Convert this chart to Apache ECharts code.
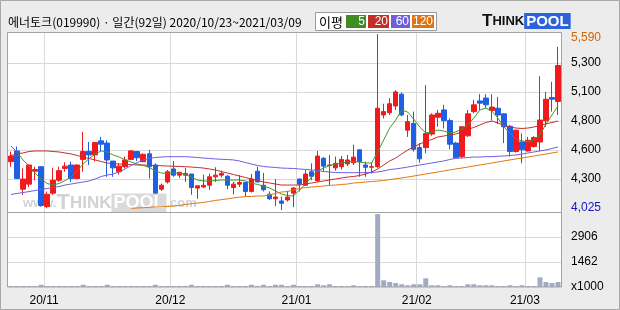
<!DOCTYPE html>
<html><head><meta charset="utf-8">
<script src="https://cdn.jsdelivr.net/npm/echarts@6/dist/echarts.min.js"></script>
<style>html,body{margin:0;padding:0;background:#ececec}#c{width:620px;height:310px}</style>
</head><body><div id="c"></div>
<script>
const titleText = '에너토크(019990) · 일간(92일) 2020/10/23~2021/03/09';
const categories = [
'2020-10-23','2020-10-26','2020-10-27','2020-10-28','2020-10-29','2020-10-30',
'2020-11-02','2020-11-03','2020-11-04','2020-11-05','2020-11-06','2020-11-09','2020-11-10','2020-11-11','2020-11-12','2020-11-13','2020-11-16','2020-11-17','2020-11-18','2020-11-19','2020-11-20','2020-11-23','2020-11-24','2020-11-25','2020-11-26','2020-11-27','2020-11-30',
'2020-12-01','2020-12-02','2020-12-03','2020-12-04','2020-12-07','2020-12-08','2020-12-09','2020-12-10','2020-12-11','2020-12-14','2020-12-15','2020-12-16','2020-12-17','2020-12-18','2020-12-21','2020-12-22','2020-12-23','2020-12-24','2020-12-28','2020-12-29','2020-12-30',
'2021-01-04','2021-01-05','2021-01-06','2021-01-07','2021-01-08','2021-01-11','2021-01-12','2021-01-13','2021-01-14','2021-01-15','2021-01-18','2021-01-19','2021-01-20','2021-01-21','2021-01-22','2021-01-25','2021-01-26','2021-01-27','2021-01-28','2021-01-29',
'2021-02-01','2021-02-02','2021-02-03','2021-02-04','2021-02-05','2021-02-08','2021-02-09','2021-02-10','2021-02-15','2021-02-16','2021-02-17','2021-02-18','2021-02-19','2021-02-22','2021-02-23','2021-02-24','2021-02-25','2021-02-26',
'2021-03-02','2021-03-03','2021-03-04','2021-03-05','2021-03-08','2021-03-09'];
const opens = [4455,4550,4210,4255,4370,4410,4055,4175,4290,4395, 4425,4305,4475,4545,4515,4640,4620,4460,4365,4410,
 4475,4545,4455,4525,4425,4210,4275,4390,4335,4335, 4345,4220,4230,4245,4320,4335,4325,4225,4255,4270,
 4190,4370,4245,4165,4125,4105,4115,4175,4300,4245, 4365,4285,4485,4420,4400,4410,4435,4445,4560,4425,
 4405,4410,4870,4890,4950,5055,4735,4795,4580,4580, 4700,4850,4915,4820,4620,4500,4685,4900,4995,5020,
 4910,4930,4880,4770,4545,4630,4550,4590,4630,4820, 5025,4990];
const closes = [4505,4305,4300,4425,4385,4065,4165,4290,4375,4415, 4305,4425,4545,4515,4625,4610,4470,4400,4415,4470,
 4550,4490,4520,4410,4175,4245,4365,4335,4360,4350, 4225,4240,4245,4320,4335,4350,4245,4255,4270,4190,
 4300,4275,4205,4125,4140,4085,4140,4220,4255,4345, 4325,4505,4415,4425,4440,4475,4470,4495,4455,4405,
 4410,4930,4900,4970,5075,4870,4810,4565,4480,4705, 4870,4885,4820,4610,4490,4765,4880,4960,4975,4960,
 4940,4870,4765,4545,4735,4560,4645,4670,4825,5010, 5010,5310];
const lows = [4410,4300,4160,4230,4290,4055,4040,4160,4275,4365, 4275,4300,4365,4425,4455,4545,4320,4320,4340,4395,
 4470,4460,4450,4305,4175,4195,4260,4320,4310,4275, 4160,4125,4220,4205,4275,4315,4210,4165,4230,4145,
 4180,4270,4190,4115,4060,4025,4100,4050,4190,4240, 4290,4275,4365,4245,4375,4385,4415,4425,4320,4320,
 4350,4400,4840,4870,4915,4860,4675,4545,4445,4530, 4685,4765,4750,4565,4485,4485,4675,4885,4915,4930,
 4820,4790,4620,4500,4535,4440,4545,4580,4550,4765, 4900,4870];
const highs = [4545,4590,4395,4430,4410,4410,4190,4400,4410,4450, 4455,4430,4720,4630,4630,4675,4645,4460,4440,4500,
 4560,4545,4530,4560,4440,4260,4380,4460,4365,4400, 4345,4240,4340,4350,4405,4375,4335,4275,4335,4275,
 4345,4410,4355,4190,4300,4145,4195,4230,4305,4380, 4440,4550,4495,4515,4500,4505,4515,4605,4565,4455,
 4445,5590,4970,5020,5090,5070,4870,4900,4620,5135, 4885,4915,4960,4840,4630,4765,4915,5005,5055,5055,
 5055,5030,4885,4780,4740,4705,4675,4680,5215,5075, 5165,5475];
const ma5 = [4594,4541,4470,4416,4354,4301,4261,4247,4261,4287, 4318,4372,4434,4483,4523,4550,4541,4514,4496,4470,
 4452,4434,4421,4403,4372,4354,4350,4354,4354,4341, 4318,4292,4283,4283,4287,4292,4292,4292,4292,4283,
 4265,4252,4238,4221,4194,4167,4154,4149,4203,4256, 4318,4372,4398,4421,4434,4443,4452,4456,4452,4443,
 4443,4541,4648,4754,4825,4914,4896,4834,4763,4710, 4719,4736,4728,4710,4719,4745,4781,4843,4914,4932,
 4905,4843,4763,4710,4656,4639,4630,4648,4692,4790, 4870,4950];
const ma20 = [4510,4523,4532,4545,4550,4550,4550,4545,4541,4532, 4523,4510,4496,4483,4470,4456,4443,4438,4434,4431,
 4429,4425,4425,4422,4421,4419,4416,4414,4412,4410, 4407,4403,4398,4390,4381,4367,4354,4341,4327,4314,
 4301,4287,4274,4265,4256,4247,4247,4247,4247,4256, 4265,4274,4283,4292,4301,4310,4318,4323,4332,4345,
 4363,4390,4425,4461,4487,4523,4559,4585,4612,4634, 4652,4674,4683,4692,4701,4719,4741,4759,4781,4803,
 4816,4799,4777,4763,4754,4750,4754,4763,4777,4790, 4803,4816];
const ma60 = [4163,4172,4180,4189,4198,4207,4216,4225,4234,4247, 4256,4265,4274,4283,4301,4323,4336,4345,4363,4390,
 4421,4447,4470,4483,4492,4496,4499,4499,4499,4499, 4496,4492,4487,4483,4479,4476,4474,4470,4461,4447,
 4434,4421,4412,4407,4403,4398,4396,4394,4390,4385, 4381,4376,4367,4363,4358,4357,4357,4357,4357,4357,
 4358,4363,4372,4385,4390,4398,4407,4416,4425,4434, 4443,4452,4461,4474,4485,4487,4492,4496,4496,4499,
 4499,4503,4505,4510,4514,4523,4532,4541,4550,4559, 4572,4585];
const ma120 = [null,null,null,null,null,null,null,null,null,null, null,null,null,null,null,null,null,null,null,null,
 4040,4043,4045,4049,4052,4053,4056,4060,4065,4074, 4081,4086,4092,4101,4110,4117,4124,4132,4139,4144,
 4146,4149,4150,4158,4172,4185,4189,4203,4216,4225, 4229,4234,4238,4244,4247,4252,4256,4265,4269,4274,
 4278,4283,4287,4296,4303,4310,4318,4327,4336,4345, 4354,4363,4372,4381,4390,4398,4407,4416,4425,4434,
 4443,4452,4461,4470,4479,4487,4496,4505,4514,4523, 4532,4541];
const volumes = [60,60,60,60,60,130,60,60,60,60, 60,60,130,60,60,60,130,60,60,60,
 60,60,60,60,130,60,60,60,60,60, 130,60,60,60,60,60,130,60,60,60,
 130,60,130,60,130,130,60,130,60,60, 60,160,100,160,60,60,60,100,60,60,
 60,4240,390,290,230,160,100,160,160,505, 100,100,60,100,60,60,160,160,100,100,
 100,60,60,100,60,100,60,60,560,290, 230,290];
const monthTickDates = ['2020-11-02','2020-12-01','2021-01-04','2021-02-01','2021-03-02'];
const monthTickLabels = ['20/11','20/12','21/01','21/02','21/03'];
const priceTickLabels = ['4,025','4,300','4,600','4,800','5,100','5,300','5,590'];
const volumeTickLabels = ['x1000','1462','2906',''];
const maLabels = ['5','20','60','120'];
const maColors = ['#45962c','#c3302c','#6a5fe0','#e07812'];
const legendBoxColors = ['#3f8c22','#c22f26','#6b5fdc','#df7410'];

const chart = echarts.init(document.getElementById('c'));
const monthIdx = monthTickDates.map(d => categories.indexOf(d));
const isMonth = i => monthIdx.indexOf(i) >= 0;
const candleData = categories.map((_, i) => [opens[i], closes[i], lows[i], highs[i]]);
const F = 'Liberation Sans, Arial, sans-serif';
const gridLineColor = '#d9d9d9';

const legendEls = [
  {type:'rect', shape:{x:315.5,y:12.5,width:121,height:18}, style:{fill:'#fff',stroke:'#9a9a9a',lineWidth:1}, z:2},
  {type:'text', x:319, y:22, style:{text:'이평', font:'13px "Noto Sans CJK KR"', fill:'#000', textVerticalAlign:'middle'}, z:3}
];
const boxX = [346,368,391,412], boxW = [20,21,19,22];
maLabels.forEach((lab, k) => {
  legendEls.push({type:'rect', shape:{x:boxX[k],y:15,width:boxW[k],height:13}, style:{fill:legendBoxColors[k]}, z:3});
  legendEls.push({type:'text', x:boxX[k]+boxW[k]-1, y:22, style:{text:lab, font:'12px '+F, fill:'#fff', textAlign:'right', textVerticalAlign:'middle'}, z:4});
});

const maSeries = [ma5, ma20, ma60, ma120].map((d, k) => ({
  type:'line', name:maLabels[k], xAxisIndex:0, yAxisIndex:0, data:d, symbol:'none', showSymbol:false,
  lineStyle:{color:maColors[k], width:1}, z:6, silent:true, connectNulls:false
}));

const option = {
  backgroundColor:'#ececec',
  animation:false,
  grid:[
    {left:8, right:59, top:32, height:180},
    {left:8, right:59, top:34, height:174},
    {left:8, right:59, top:212, height:75}
  ],
  xAxis:[
    {gridIndex:0, type:'category', data:categories, boundaryGap:true, axisLine:{show:false}, axisTick:{show:false}, axisLabel:{show:false},
     splitLine:{show:true, interval:(i)=>isMonth(i), lineStyle:{color:gridLineColor, width:1}}, z:3},
    {gridIndex:1, type:'category', data:categories, show:false},
    {gridIndex:2, type:'category', data:categories, boundaryGap:true, axisLine:{show:false}, axisTick:{show:false},
     axisLabel:{show:true, interval:(i)=>isMonth(i), formatter:(v)=>monthTickLabels[monthTickDates.indexOf(v)] || '',
       color:'#000', fontFamily:F, fontSize:12, margin:8, padding:[0,6,0,0]},
     splitLine:{show:true, interval:(i)=>isMonth(i), lineStyle:{color:gridLineColor, width:1}}, z:3}
  ],
  yAxis:[
    {gridIndex:0, type:'value', min:4007.2, max:5607.8, show:false},
    {gridIndex:1, type:'value', min:0, max:6, interval:1, position:'right', axisLine:{show:false}, axisTick:{show:false},
     splitLine:{show:true, showMinLine:false, showMaxLine:false, lineStyle:{color:gridLineColor, width:1}},
     axisLabel:{margin:10, fontFamily:F, fontSize:12, color:'#000',
       formatter:(v)=>{const k=Math.round(v); const t=priceTickLabels[k]; if(k===6) return '{top|'+t+'}'; if(k===0) return '{bot|'+t+'}'; return t;},
       rich:{top:{color:'#d0650a', fontFamily:F, fontSize:12, padding:[8,0,0,0]}, bot:{color:'#1515c8', fontFamily:F, fontSize:12, padding:[0,0,1,0]}}}, z:3},
    {gridIndex:2, type:'value', min:0, max:4359, interval:1453, position:'right', axisLine:{show:false}, axisTick:{show:false},
     splitLine:{show:true, showMinLine:false, showMaxLine:false, lineStyle:{color:gridLineColor, width:1}},
     axisLabel:{margin:10, fontFamily:F, fontSize:12, color:'#000', formatter:(v)=>volumeTickLabels[Math.round(v/1453)] || ''}, z:3}
  ],
  series:[
    {type:'candlestick', xAxisIndex:0, yAxisIndex:0, data:candleData, barWidth:5, clip:false, z:5, silent:true,
     itemStyle:{color:'#f2191c', color0:'#1f5fe6', borderColor:'#f2191c', borderColor0:'#1f5fe6', borderWidth:1}},
    ...maSeries,
    {type:'bar', xAxisIndex:2, yAxisIndex:2, data:volumes, barWidth:5, z:5, silent:true, itemStyle:{color:'#a3abc4'}}
  ],
  graphic:{elements:[
    {type:'rect', shape:{x:7.5,y:32.5,width:554,height:254.5}, style:{fill:'#ffffff'}, z:-1, silent:true},
    {type:'text', x:23, y:203, silent:true, z:1, style:{
      text:'{a|www.}{b|T}{c|HINK}{d|POOL}{a|.com}',
      rich:{a:{fill:'#d2d2d2', font:'bold 13px '+F}, b:{fill:'#d2d2d2', font:'bold 22px '+F}, c:{fill:'#d2d2d2', font:'bold 17px '+F},
            d:{fill:'#ffffff', backgroundColor:'#dadada', font:'bold 18px '+F, padding:[1,2,0,2]}},
      textVerticalAlign:'middle'}},
    {type:'rect', shape:{x:7.5,y:32.5,width:554,height:254.5}, style:{fill:null, stroke:'#a3a3a3', lineWidth:1}, z:10, silent:true},
    {type:'line', shape:{x1:7.5,y1:212.5,x2:561.5,y2:212.5}, style:{stroke:'#a3a3a3', lineWidth:1}, z:10, silent:true},
    {type:'rect', shape:{x:0.5,y:0.5,width:619,height:309}, style:{fill:null, stroke:'#a8a8a8', lineWidth:1}, z:10, silent:true},
    {type:'text', x:8, y:22, style:{text:titleText, font:'12px "Noto Sans CJK KR"', fill:'#000', textVerticalAlign:'middle'}, z:3},
    ...legendEls,
    {type:'text', x:482, y:21, z:3, style:{
      text:'{t|T}{h|HINK}{p|POOL}',
      rich:{t:{fill:'#111', font:'bold 17px '+F}, h:{fill:'#111', font:'bold 13px '+F},
            p:{fill:'#fff', backgroundColor:'#2d62da', font:'bold 15px '+F, padding:[1,2,0,2]}},
      textVerticalAlign:'middle'}}
  ]}
};
chart.setOption(option);
</script></body></html>
